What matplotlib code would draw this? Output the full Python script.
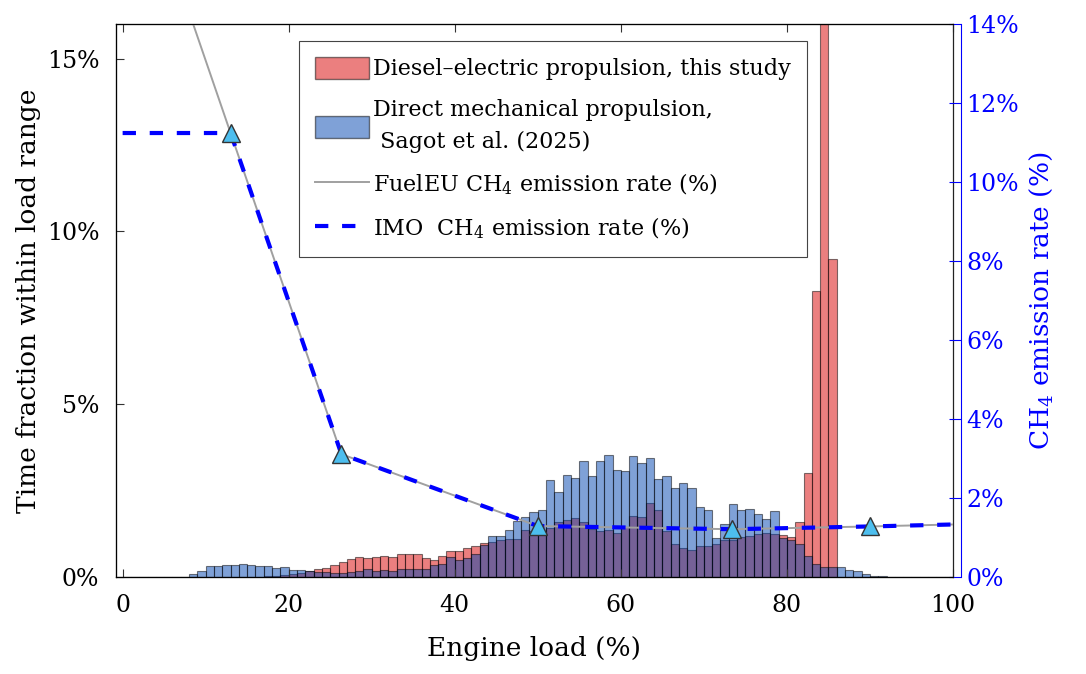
import numpy as np
import matplotlib
matplotlib.use("Agg")
import matplotlib.pyplot as plt
from matplotlib.patches import Patch
from matplotlib.lines import Line2D

plt.rcParams['font.family'] = ['DejaVu Serif']
plt.rcParams['mathtext.fontset'] = 'dejavuserif'

# histogram bins: 1 % load wide, from 0 to 100
edges = np.arange(0, 101)

# time fraction (%) per bin, diesel-electric (this study)
red_vals = np.zeros(100)
red_vals[17:29] = [0.02, 0.04, 0.06, 0.09, 0.12, 0.16, 0.22, 0.27, 0.35, 0.44, 0.52, 0.58]
red_vals[29:44] = [0.56, 0.57, 0.60, 0.58, 0.66, 0.68, 0.68, 0.56, 0.48, 0.60, 0.74, 0.76,
                   0.84, 0.91, 0.97]
red_vals[44:65] = [1.01, 1.06, 1.10, 1.11, 1.36, 1.34, 1.34, 1.42, 1.60, 1.65, 1.71, 1.58,
                   1.39, 1.32, 1.36, 1.27, 1.46, 1.77, 1.75, 2.15, 1.94]
red_vals[65:86] = [1.33, 0.96, 0.85, 0.79, 0.89, 0.91, 0.96, 1.08, 1.06, 1.16, 1.18, 1.23,
                   1.27, 1.25, 1.22, 1.17, 1.60, 3.00, 8.28, 17.0, 9.20]

# time fraction (%) per bin, direct mechanical (Sagot et al. 2025)
blue_vals = np.zeros(100)
blue_vals[8:22] = [0.10, 0.17, 0.33, 0.33, 0.34, 0.36, 0.37, 0.35, 0.31, 0.33, 0.27, 0.28,
                   0.21, 0.20]
blue_vals[22:44] = [0.17, 0.15, 0.14, 0.13, 0.13, 0.15, 0.17, 0.24, 0.17, 0.20, 0.18, 0.22,
                    0.23, 0.23, 0.23, 0.34, 0.37, 0.57, 0.49, 0.54, 0.67, 0.94]
blue_vals[44:71] = [1.20, 1.19, 1.37, 1.63, 1.75, 1.87, 1.93, 2.81, 2.47, 2.94, 2.87, 3.37,
                    2.92, 3.35, 3.54, 3.11, 3.08, 3.49, 3.31, 3.45, 2.83, 2.92, 2.58, 2.72,
                    2.58, 2.04, 1.95]
blue_vals[71:93] = [1.14, 1.52, 2.10, 1.93, 1.97, 1.83, 1.68, 1.90, 1.14, 1.08, 0.96, 0.60,
                    0.39, 0.29, 0.29, 0.29, 0.19, 0.17, 0.08, 0.03, 0.02, 0.01]

# CH4 emission rate curves (%)
fueleu_load = [0, 13, 26.35, 50, 73.4, 90, 100]
fueleu_rate = [19.2, 11.24, 3.11, 1.29, 1.21, 1.28, 1.33]
imo_load = [0, 13, 26.35, 50, 73.4, 90, 100]
imo_rate = [11.24, 11.24, 3.11, 1.29, 1.21, 1.28, 1.33]
imo_pts_load = [13, 26.35, 50, 73.4, 90]
imo_pts_rate = [11.24, 3.11, 1.29, 1.21, 1.28]

red_c = (0.85, 0.0, 0.0)
blue_c = (0.0, 0.27, 0.69)
edge_c = (0, 0, 0, 0.5)
dash = (0, (3.2, 3.3))

fig = plt.figure(figsize=(10.86, 6.74), dpi=100)
ax = fig.add_axes([0.1068, 0.1439, 0.7707, 0.8205])

ax.bar(edges[:-1], red_vals, width=1, align='edge', color=red_c, alpha=0.5,
       edgecolor=edge_c, linewidth=0.8)
ax.bar(edges[:-1], blue_vals, width=1, align='edge', color=blue_c, alpha=0.5,
       edgecolor=edge_c, linewidth=0.8)
ax.set_xlim(-0.8, 100)
ax.set_ylim(0, 16)
ax.set_xticks(np.arange(0, 101, 20))
ax.set_yticks([0, 5, 10, 15])
ax.set_yticklabels(['0%', '5%', '10%', '15%'])
ax.tick_params(direction='in', length=6, labelsize=17, top=True, width=0.8, color='#333333')
ax.tick_params(axis='x', pad=12)
ax.tick_params(axis='y', pad=12)
ax.set_xlabel('Engine load (%)', fontsize=19, labelpad=14)
ax.set_ylabel('Time fraction within load range', fontsize=19)
for s in ax.spines.values():
    s.set_color('#222222')
    s.set_linewidth(0.9)

ax2 = ax.twinx()
ax2.plot(fueleu_load, fueleu_rate, color='#A0A0A0', lw=1.4)
ax2.plot(imo_load, imo_rate, color='blue', lw=3, ls=dash)
ax2.plot(imo_pts_load, imo_pts_rate, ls='none', marker='^', ms=13,
         mfc='#4DBEEE', mec='#333333', mew=1)
ax2.set_ylim(0, 14)
ax2.set_yticks(np.arange(0, 15, 2))
ax2.set_yticklabels([f'{v}%' for v in range(0, 15, 2)])
ax2.spines['right'].set_position(('outward', 6))
ax2.spines['right'].set_color('blue')
ax2.tick_params(axis='y', direction='in', length=9, colors='blue', labelsize=17, width=0.8)
ax2.set_ylabel('CH$_4$ emission rate (%)', color='blue', fontsize=19, labelpad=6)

handles = [
    Patch(facecolor=red_c, alpha=0.5, edgecolor='black'),
    Patch(facecolor=blue_c, alpha=0.5, edgecolor='black'),
    Line2D([], [], color='#A0A0A0', lw=1.4),
    Line2D([], [], color='blue', lw=3, ls=dash),
]
labels = [
    'Diesel\u2013electric propulsion, this study',
    'Direct mechanical propulsion,\n Sagot et al. (2025)',
    'FuelEU CH$_4$ emission rate (%)',
    'IMO  CH$_4$ emission rate (%)',
]
leg = ax2.legend(handles, labels, loc='upper left', bbox_to_anchor=(0.219, 0.97),
                 fontsize=16, fancybox=False, framealpha=1, edgecolor='#444444',
                 handlelength=2.4, handleheight=1.2, handletextpad=0.2, borderpad=0.72,
                 labelspacing=0.85, borderaxespad=0)
leg.get_frame().set_linewidth(0.8)
leg.get_texts()[1].set_linespacing(1.55)

fig.savefig('out.png', dpi=100)
